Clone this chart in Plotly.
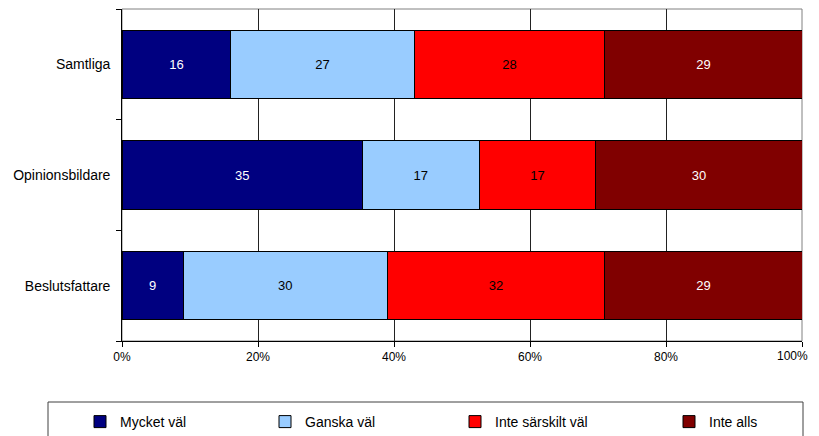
import plotly.graph_objects as go

groups = ["Beslutsfattare", "Opinionsbildare", "Samtliga"]
series_names = ["Mycket väl", "Ganska väl", "Inte särskilt väl", "Inte alls"]
mycket_val = [9, 35, 16]
ganska_val = [30, 17, 27]
inte_sarskilt_val = [32, 17, 28]
inte_alls = [29, 30, 29]
x_ticks = [0, 20, 40, 60, 80, 100]
x_tick_labels = [f"{v}%" for v in x_ticks]

colors = ["#000080", "#99CCFF", "#FF0000", "#800000"]
text_colors = ["white", "black", "black", "white"]
legend_ids = ["legend", "legend2", "legend3", "legend4"]

# the page body has an 8px margin, so page pixels = figure pixels + 8
OFF = 8
FONT = "Liberation Sans, Arial, sans-serif"
W, H = 819 - OFF, 436 - OFF
plot_left, plot_right, plot_top, plot_bottom = 122, 802, 9, 341  # page pixels
L, T = plot_left - OFF, plot_top - OFF
R, B = W - (plot_right - OFF), H - (plot_bottom - OFF)
pw, ph = W - L - R, H - T - B

legend_x = [80, 265, 455, 669]  # page pixels, left edge of each legend entry


def px_x(p):
    return (p - plot_left) / pw


def px_y(p):
    return (plot_bottom - p) / ph


fig = go.Figure()
for name, vals, c, tc, lg in zip(
    series_names, [mycket_val, ganska_val, inte_sarskilt_val, inte_alls], colors, text_colors, legend_ids
):
    fig.add_trace(
        go.Bar(
            name=name,
            y=groups,
            x=vals,
            orientation="h",
            marker=dict(color=c, line=dict(color="black", width=1)),
            text=[str(v) for v in vals],
            textposition="inside",
            insidetextanchor="middle",
            textangle=0,
            textfont=dict(color=tc, size=13, family=FONT),
            legend=lg,
            hoverinfo="name+text",
        )
    )

layout_legends = {}
for lg, p in zip(legend_ids, legend_x):
    layout_legends[lg] = dict(
        x=px_x(p),
        xanchor="left",
        y=px_y(422),
        yanchor="middle",
        orientation="h",
        bgcolor="rgba(0,0,0,0)",
        font=dict(size=14, family=FONT, color="black"),
        itemclick=False,
    )

fig.update_layout(
    width=W,
    height=H,
    barmode="stack",
    barnorm="percent",
    bargap=0.38,
    plot_bgcolor="white",
    paper_bgcolor="white",
    margin=dict(l=L, r=R, t=T, b=B, autoexpand=False),
    font=dict(family=FONT, size=13, color="black"),
    showlegend=True,
    uniformtext=dict(minsize=8, mode="show"),
    **layout_legends,
)

# the last tick label gets clipped at the right edge, so it is drawn as an
# annotation that ends just inside the visible area
fig.update_xaxes(
    range=[0, 100],
    tickvals=x_ticks,
    ticktext=x_tick_labels[:-1] + [""],
    showgrid=True,
    gridcolor="#222222",
    gridwidth=1,
    showline=True,
    linecolor="black",
    linewidth=1,
    ticks="outside",
    ticklen=5,
    tickcolor="black",
    tickfont=dict(size=12),
    zeroline=False,
    fixedrange=True,
    automargin=False,
)
fig.add_annotation(
    text=x_tick_labels[-1],
    xref="paper", yref="paper",
    x=px_x(810), y=px_y(356),
    xanchor="right", yanchor="middle",
    showarrow=False,
    font=dict(size=12, family=FONT, color="black"),
)
fig.update_yaxes(
    categoryorder="array",
    categoryarray=groups,
    showline=True,
    linecolor="black",
    linewidth=1,
    ticks="outside",
    tickson="boundaries",
    ticklen=5,
    tickcolor="black",
    ticksuffix="  ",
    tickfont=dict(size=14),
    showgrid=False,
    fixedrange=True,
    automargin=False,
)

# plot area border (grey) and legend box
fig.add_shape(type="rect", xref="paper", yref="paper", x0=0, x1=1, y0=0, y1=1,
              line=dict(color="#808080", width=1), layer="below")
fig.add_shape(type="rect", xref="paper", yref="paper",
              x0=px_x(48), x1=px_x(803),
              y0=px_y(450), y1=px_y(402),
              line=dict(color="#404040", width=1), fillcolor="rgba(0,0,0,0)")

fig.write_html("out.html")
